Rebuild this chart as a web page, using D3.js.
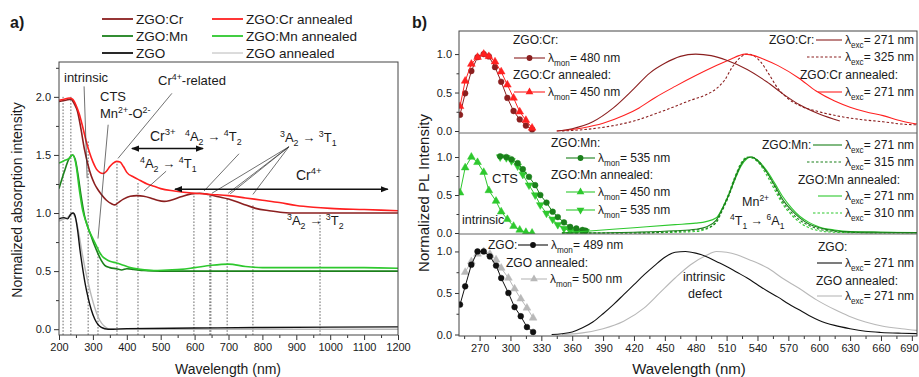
<!DOCTYPE html>
<html><head><meta charset="utf-8">
<script src="https://cdn.jsdelivr.net/npm/d3@7"></script>
<style>body{margin:0;background:#fff} text{font-family:Arial,"Liberation Sans",sans-serif;fill:#1a1a1a}</style>
</head><body><svg id="c" width="919" height="377"></svg>
<script>
// ---------------- Panel a data ----------------
const aXTicks = [200,300,400,500,600,700,800,900,1000,1100,1200];
const aYTicks = [0,0.5,1.0,1.5,2.0];
const aCrNm  = [200,220,235,245,255,265,275,285,295,305,315,325,340,355,365,375,390,410,430,450,470,490,510,530,560,590,615,640,670,700,740,780,820,860,900,1000,1100,1200];
const aCrVal = [1.96,1.97,1.98,1.94,1.87,1.72,1.55,1.42,1.32,1.25,1.20,1.16,1.11,1.08,1.07,1.09,1.12,1.145,1.15,1.145,1.13,1.11,1.10,1.11,1.14,1.165,1.17,1.16,1.14,1.12,1.08,1.04,1.02,1.005,1.0,1.0,1.0,1.0];
const aCrAnnNm  = [200,215,230,240,250,260,270,280,290,300,310,320,330,340,350,360,370,380,390,400,420,440,460,480,500,540,600,650,700,750,800,850,900,950,1000,1100,1200];
const aCrAnnVal = [1.97,1.98,1.99,1.98,1.93,1.85,1.74,1.62,1.52,1.44,1.38,1.35,1.34,1.36,1.40,1.43,1.445,1.44,1.40,1.35,1.31,1.28,1.25,1.23,1.21,1.19,1.17,1.16,1.15,1.13,1.11,1.09,1.065,1.05,1.04,1.03,1.02];
const aMnNm  = [200,215,230,240,248,255,265,275,285,295,305,315,325,335,350,370,385,400,420,450,500,600,800,1000,1200];
const aMnVal = [1.21,1.35,1.47,1.50,1.46,1.35,1.15,0.98,0.88,0.80,0.72,0.65,0.59,0.55,0.53,0.52,0.51,0.52,0.515,0.505,0.50,0.50,0.50,0.50,0.50];
const aMnAnnNm  = [200,215,230,240,250,260,270,280,290,300,310,320,330,340,350,370,390,410,440,480,520,560,600,650,700,750,800,900,1000,1100,1200];
const aMnAnnVal = [1.43,1.45,1.47,1.50,1.42,1.20,1.02,0.92,0.84,0.78,0.72,0.66,0.62,0.60,0.585,0.57,0.55,0.53,0.515,0.505,0.51,0.515,0.53,0.55,0.56,0.54,0.53,0.53,0.53,0.53,0.525];
const aZgoNm  = [200,215,225,235,242,248,255,262,270,278,286,295,305,315,325,335,345,360,400,600,800,1000,1200];
const aZgoVal = [0.95,0.96,0.95,0.99,1.0,0.97,0.85,0.68,0.52,0.38,0.27,0.17,0.09,0.04,0.015,0.004,0.0,0.0,0.005,0.01,0.015,0.018,0.02];
const aZgoAnnNm  = [200,215,225,238,245,252,260,268,277,286,296,306,316,326,336,350,370,500,800,1200];
const aZgoAnnVal = [0.93,0.95,0.96,1.0,0.98,0.92,0.80,0.66,0.52,0.40,0.28,0.18,0.10,0.05,0.02,0.0,0.0,0.0,0.0,0.0];
const aDottedNm  = [212,235,286,315,371,433,598,645,648,696,772,970];
const aDottedTop = [2.0,2.0,1.62,0.72,1.44,1.27,1.17,1.15,1.15,1.13,1.07,1.0];

// ---------------- Panel b data ----------------
const bXTicks = [270,300,330,360,390,420,450,480,510,540,570,600,630,660,690];
const bYTicks = [0,0.5,1.0];
const bExcNm = [251,256,262,268,274,279,285,291,297,303,309,315,321];
const bCrExcVal    = [0.21,0.49,0.78,0.96,1.0,0.97,0.83,0.64,0.43,0.26,0.15,0.07,0.02];
const bCrAnnExcVal = [0.32,0.65,0.87,0.96,1.0,0.97,0.90,0.77,0.60,0.43,0.25,0.14,0.04];
const bCr271Nm  = [345,360,380,400,420,435,450,465,480,495,510,530,549,565,581,600,620];
const bCr271Val = [0.0,0.03,0.12,0.30,0.55,0.75,0.88,0.97,1.0,0.98,0.92,0.80,0.64,0.48,0.34,0.22,0.13];
const bCr325Nm  = [350,380,400,420,440,460,475,490,500,508,515,522,530,536,543,552,560,568,581,600,620,640,662,680,695];
const bCr325Val = [0.0,0.03,0.07,0.13,0.22,0.32,0.40,0.47,0.55,0.66,0.82,0.94,1.0,0.98,0.90,0.72,0.55,0.44,0.33,0.25,0.19,0.15,0.12,0.09,0.08];
const bCrAnn271Nm  = [345,370,390,410,425,440,460,480,500,515,522,528,537,545,560,580,597,615,630,645,662,680,695];
const bCrAnn271Val = [0.0,0.04,0.10,0.20,0.30,0.43,0.58,0.72,0.85,0.94,0.98,1.0,0.98,0.94,0.85,0.69,0.52,0.39,0.31,0.25,0.20,0.13,0.09];

const bMnAnn450Nm  = [251,256,262,268,274,279,286,291,297,303,309,315,321];
const bMnAnn450Val = [0.53,0.86,1.0,0.93,0.80,0.56,0.42,0.28,0.18,0.09,0.04,0.01,0.0];
const bMnExcNm  = [290,296,301,307,312,318,324,329,335,341,346,352,358,364,370,373];
const bMn535Val    = [1.01,1.0,0.97,0.92,0.84,0.74,0.63,0.50,0.40,0.28,0.21,0.14,0.08,0.06,0.04,0.03];
const bMnAnn535Val = [1.0,0.99,0.95,0.88,0.77,0.63,0.50,0.37,0.26,0.18,0.11,0.06,0.03,0.02,0.02,0.02];
const bMnEmNm = [350,380,420,460,480,490,500,506,512,518,524,530,534,540,549,557,565,573,581,590,600,615,630,660,695];
const bMn271Val    = [0.0,0.0,0.01,0.03,0.05,0.08,0.17,0.32,0.50,0.72,0.90,0.99,1.0,0.95,0.80,0.62,0.43,0.30,0.20,0.12,0.07,0.03,0.015,0.01,0.005];
const bMn315Val    = [0.0,0.0,0.0,0.02,0.04,0.06,0.14,0.30,0.48,0.70,0.90,0.99,1.0,0.96,0.80,0.60,0.40,0.27,0.17,0.10,0.05,0.02,0.01,0.0,0.0];
const bMnAnn271Val = [0.0,0.03,0.07,0.11,0.13,0.15,0.20,0.33,0.50,0.70,0.88,0.98,1.0,0.96,0.82,0.65,0.47,0.33,0.22,0.14,0.08,0.04,0.02,0.01,0.005];
const bMnAnn310Val = [0.0,0.0,0.0,0.01,0.02,0.05,0.15,0.33,0.52,0.74,0.92,1.0,0.99,0.94,0.76,0.56,0.37,0.24,0.14,0.07,0.03,0.01,0.005,0.0,0.0];

const bZgoExcNm  = [251,256,262,268,274,280,286,291,298,304,310,316,322];
const bZgoExcVal = [0.36,0.58,0.84,1.0,1.0,0.94,0.83,0.68,0.50,0.33,0.22,0.09,0.03];
const bZgoAnnExcNm  = [256,262,268,274,280,286,291,298,304,310,316,322];
const bZgoAnnExcVal = [0.75,0.88,0.97,1.0,0.97,0.90,0.80,0.68,0.55,0.43,0.32,0.20];
const bZgoEmNm  = [340,350,360,370,380,390,400,410,420,430,440,450,460,470,480,490,500,510,520,530,540,550,560,570,580,590,600,615,630,645,660,680,695];
const bZgoEmVal = [0.0,0.01,0.03,0.08,0.15,0.25,0.36,0.48,0.60,0.72,0.83,0.93,0.99,1.0,0.98,0.94,0.88,0.82,0.75,0.68,0.60,0.52,0.45,0.37,0.30,0.23,0.17,0.11,0.07,0.04,0.025,0.015,0.01];
const bZgoAnnEmNm  = [350,370,390,410,430,445,460,475,490,500,510,520,532,540,550,564,580,597,615,629,645,662,680,695];
const bZgoAnnEmVal = [0.0,0.02,0.07,0.16,0.32,0.50,0.68,0.84,0.95,1.0,0.99,0.96,0.90,0.86,0.80,0.68,0.56,0.42,0.30,0.22,0.15,0.10,0.07,0.05];

// ---------------- styles ----------------
const cCrDark="#8b1f1f", cCrAnn="#ff2020", cMnDark="#1b801b", cMnAnn="#2ec82e", cZgo="#111111", cZgoAnn="#b8b8b8";

const svg = d3.select("#c");
const zip = (a,b)=>a.map((v,i)=>[v,b[i]]);

function rich(parent,x,y,parts,size,anchor){
  const t=parent.append("text").attr("x",x).attr("y",y).attr("font-size",size).attr("text-anchor",anchor||"start");
  let cur=0;
  parts.forEach(p=>{
    const s=p[0], m=p[1]||0;
    const off = m===1 ? -0.42*size : (m===2 ? 0.3*size : 0);
    t.append("tspan").attr("dy",off-cur).attr("font-size", m? size*0.68 : size).text(s);
    cur=off;
  });
  return t;
}
function curve(g,x,y,nm,val,color,w,dash,smooth){
  const line=d3.line().x(d=>x(d[0])).y(d=>y(d[1])).curve(smooth===false?d3.curveLinear:d3.curveMonotoneX);
  g.append("path").attr("d",line(zip(nm,val))).attr("fill","none").attr("stroke",color)
   .attr("stroke-width",w).attr("stroke-dasharray",dash||null).attr("stroke-linejoin","round");
}
function markerPath(shape,s){
  const sym=d3.symbol().type(shape==="c"?d3.symbolCircle:d3.symbolTriangle).size(s);
  return sym();
}
function markers(g,x,y,nm,val,color,shape,s){
  g.selectAll(null).data(zip(nm,val)).enter().append("path")
   .attr("d",markerPath(shape,s))
   .attr("transform",d=>`translate(${x(d[0])},${y(d[1])})${shape==="v"?" rotate(180)":""}`)
   .attr("fill",color).attr("stroke",color).attr("stroke-width",0.5);
}
function styleAxis(sel){
  sel.select(".domain").remove();
  sel.selectAll("line").attr("stroke","#333");
  sel.selectAll("text").attr("font-size",11).attr("fill","#222").style("font-family","Arial, 'Liberation Sans', sans-serif");
}

// ================= PANEL A =================
const xA=d3.scaleLinear().domain([200,1200]).range([59,398]);
const yA=d3.scaleLinear().domain([-0.05,2.3]).range([335,62]);
const gA=svg.append("g");
svg.append("defs").html(`
 <clipPath id="clipA"><rect x="59" y="62" width="339" height="273"/></clipPath>
 <clipPath id="clipB1"><rect x="459" y="31" width="458" height="102"/></clipPath>
 <clipPath id="clipB2"><rect x="459" y="133" width="458" height="101"/></clipPath>
 <clipPath id="clipB3"><rect x="459" y="234" width="458" height="102"/></clipPath>
 <marker id="ah" viewBox="0 0 10 10" refX="9" refY="5" markerWidth="8" markerHeight="8" orient="auto-start-reverse" markerUnits="userSpaceOnUse">
   <path d="M0,1 L10,5 L0,9 z" fill="#111"/></marker>`);

// dotted guide lines
aDottedNm.forEach((nm,i)=>{
  gA.append("line").attr("x1",xA(nm)).attr("x2",xA(nm)).attr("y1",yA(-0.05)).attr("y2",yA(aDottedTop[i]))
    .attr("stroke","#444").attr("stroke-width",0.8).attr("stroke-dasharray","1.6,1.6");
});
const gAc=gA.append("g").attr("clip-path","url(#clipA)");
curve(gAc,xA,yA,aZgoAnnNm,aZgoAnnVal,cZgoAnn,1.4);
curve(gAc,xA,yA,aZgoNm,aZgoVal,cZgo,1.4);
curve(gAc,xA,yA,aMnNm,aMnVal,cMnDark,1.6);
curve(gAc,xA,yA,aMnAnnNm,aMnAnnVal,cMnAnn,1.6);
curve(gAc,xA,yA,aCrNm,aCrVal,cCrDark,1.6);
curve(gAc,xA,yA,aCrAnnNm,aCrAnnVal,cCrAnn,1.6);

// axes a
gA.append("g").attr("transform","translate(0,335)").call(d3.axisBottom(xA).tickValues(aXTicks).tickSize(5).tickPadding(3).tickFormat(d3.format("d"))).call(styleAxis);
gA.append("g").attr("transform","translate(0,335)").call(d3.axisBottom(xA).tickValues(d3.range(250,1200,100)).tickSize(3).tickFormat("")).call(styleAxis);
gA.append("g").attr("transform","translate(59,0)").call(d3.axisLeft(yA).tickValues(aYTicks).tickSize(5).tickPadding(3).tickFormat(d3.format(".1f"))).call(styleAxis);
gA.append("g").attr("transform","translate(59,0)").call(d3.axisLeft(yA).tickValues([0.25,0.75,1.25,1.75,2.25]).tickSize(3).tickFormat("")).call(styleAxis);
gA.append("rect").attr("x",59).attr("y",62).attr("width",339).attr("height",273).attr("fill","none").attr("stroke","#444").attr("stroke-width",1);

gA.append("text").attr("x",228).attr("y",374).attr("text-anchor","middle").attr("font-size",14).text("Wavelength (nm)");
gA.append("text").attr("transform","translate(22,200) rotate(-90)").attr("text-anchor","middle").attr("font-size",14).text("Normalized absorption intensity");
gA.append("text").attr("x",10).attr("y",28).attr("font-size",16).attr("font-weight","bold").text("a)");

// legend a
const legA=[["ZGO:Cr",cCrDark,102,19],["ZGO:Mn",cMnDark,102,36],["ZGO",cZgo,102,53],
            ["ZGO:Cr annealed",cCrAnn,212,19],["ZGO:Mn annealed",cMnAnn,212,36],["ZGO annealed",cZgoAnn,212,53]];
legA.forEach(l=>{
  gA.append("line").attr("x1",l[2]).attr("x2",l[2]+31).attr("y1",l[3]).attr("y2",l[3]).attr("stroke",l[1]).attr("stroke-width",l[1]===cZgoAnn?1:1.8);
  gA.append("text").attr("x",l[2]+34).attr("y",l[3]+5).attr("font-size",13.5).text(l[0]);
});

// annotations a
const ann=(x1,v1,x2,v2)=>gA.append("line").attr("x1",xA(x1)).attr("y1",yA(v1)).attr("x2",xA(x2)).attr("y2",yA(v2)).attr("stroke","#333").attr("stroke-width",0.7);
ann(274,2.09,283,1.30);
ann(345,1.76,315,0.78);
ann(533,2.03,374,1.47);
ann(516,1.36,451,1.19);
ann(731,1.51,628,1.19);
ann(878,1.57,651,1.17); ann(878,1.57,699,1.17); ann(878,1.57,705,1.165); ann(878,1.57,772,1.16);
const dArrow=(n1,n2,v)=>gA.append("line").attr("x1",xA(n1)).attr("x2",xA(n2)).attr("y1",yA(v)).attr("y2",yA(v))
  .attr("stroke","#111").attr("stroke-width",1.5).attr("marker-start","url(#ah)").attr("marker-end","url(#ah)");
dArrow(415,625,1.555);
dArrow(542,1170,1.205);

rich(gA,64,82,[["intrinsic"]],13);
rich(gA,100,101,[["CTS"]],13);
rich(gA,100,118,[["Mn"],["2+",1],["-O"],["2-",1]],13);
rich(gA,158,85,[["Cr"],["4+",1],["-related"]],13);
rich(gA,150,141,[["Cr"],["3+",1]],14);
rich(gA,185,141,[["4",1],["A"],["2",2],[" \u2192 "],["4",1],["T"],["2",2]],13);
rich(gA,140,168,[["4",1],["A"],["2",2],[" \u2192 "],["4",1],["T"],["1",2]],13);
rich(gA,280,142,[["3",1],["A"],["2",2],[" \u2192 "],["3",1],["T"],["1",2]],13);
rich(gA,296,180,[["Cr"],["4+",1]],14);
rich(gA,287,225,[["3",1],["A"],["2",2],[" \u2192 "],["3",1],["T"],["2",2]],13);

// ================= PANEL B =================
const xB=d3.scaleLinear().domain([250,695]).range([459,917]);
const yB1=d3.scaleLinear().domain([-0.026,1.3]).range([133,31]);
const yB2=d3.scaleLinear().domain([-0.013,1.316]).range([234,133]);
const yB3=d3.scaleLinear().domain([-0.018,1.21]).range([336,234]);
const gB=svg.append("g");

// sub 1
const g1=gB.append("g").attr("clip-path","url(#clipB1)");
curve(g1,xB,yB1,bExcNm,bCrExcVal,cCrDark,1,null,false);
markers(g1,xB,yB1,bExcNm,bCrExcVal,cCrDark,"c",26);
curve(g1,xB,yB1,bExcNm,bCrAnnExcVal,cCrAnn,1,null,false);
markers(g1,xB,yB1,bExcNm,bCrAnnExcVal,cCrAnn,"t",26);
curve(g1,xB,yB1,bCr325Nm,bCr325Val,cCrDark,1.1,"2.5,2");
curve(g1,xB,yB1,bCrAnn271Nm,bCrAnn271Val,cCrAnn,1.1);
curve(g1,xB,yB1,bCr271Nm,bCr271Val,cCrDark,1.1);

// sub 2
const g2=gB.append("g").attr("clip-path","url(#clipB2)");
curve(g2,xB,yB2,bMnAnn450Nm,bMnAnn450Val,cMnAnn,1,null,false);
markers(g2,xB,yB2,bMnAnn450Nm,bMnAnn450Val,cMnAnn,"t",26);
curve(g2,xB,yB2,bMnExcNm,bMnAnn535Val,cMnAnn,1,null,false);
markers(g2,xB,yB2,bMnExcNm,bMnAnn535Val,cMnAnn,"v",26);
curve(g2,xB,yB2,bMnExcNm,bMn535Val,cMnDark,1,null,false);
markers(g2,xB,yB2,bMnExcNm,bMn535Val,cMnDark,"c",26);
curve(g2,xB,yB2,bMnEmNm,bMnAnn310Val,cMnAnn,1.1,"2.5,2");
curve(g2,xB,yB2,bMnEmNm,bMnAnn271Val,cMnAnn,1.1);
curve(g2,xB,yB2,bMnEmNm,bMn315Val,cMnDark,1.1,"2.5,2");
curve(g2,xB,yB2,bMnEmNm,bMn271Val,cMnDark,1.1);

// sub 3
const g3=gB.append("g").attr("clip-path","url(#clipB3)");
curve(g3,xB,yB3,bZgoAnnExcNm,bZgoAnnExcVal,cZgoAnn,1,null,false);
markers(g3,xB,yB3,bZgoAnnExcNm,bZgoAnnExcVal,cZgoAnn,"t",26);
curve(g3,xB,yB3,bZgoExcNm,bZgoExcVal,cZgo,1,null,false);
markers(g3,xB,yB3,bZgoExcNm,bZgoExcVal,cZgo,"c",26);
curve(g3,xB,yB3,bZgoAnnEmNm,bZgoAnnEmVal,cZgoAnn,1.1);
curve(g3,xB,yB3,bZgoEmNm,bZgoEmVal,cZgo,1.1);

// axes b
const xAxB=gB.append("g").attr("transform","translate(0,336)").call(d3.axisBottom(xB).tickValues(bXTicks).tickSize(5).tickPadding(3).tickFormat(d3.format("d"))).call(styleAxis);
xAxB.selectAll(".tick text").filter(d=>d===690).attr("dx",-3);
gB.append("g").attr("transform","translate(0,336)").call(d3.axisBottom(xB).tickValues(d3.range(255,695,30)).tickSize(3).tickFormat("")).call(styleAxis);
[yB1,yB2,yB3].forEach(ys=>{
  gB.append("g").attr("transform","translate(459,0)").call(d3.axisLeft(ys).tickValues(bYTicks).tickSize(4).tickPadding(3).tickFormat(d3.format(".1f"))).call(styleAxis);
  gB.append("g").attr("transform","translate(459,0)").call(d3.axisLeft(ys).tickValues([0.25,0.75]).tickSize(2.5).tickFormat("")).call(styleAxis);
});
gB.append("rect").attr("x",459).attr("y",31).attr("width",458).attr("height",305).attr("fill","none").attr("stroke","#444").attr("stroke-width",1);
gB.append("line").attr("x1",459).attr("x2",917).attr("y1",133).attr("y2",133).attr("stroke","#666").attr("stroke-width",1);
gB.append("line").attr("x1",459).attr("x2",917).attr("y1",234).attr("y2",234).attr("stroke","#666").attr("stroke-width",1);

gB.append("text").attr("x",689).attr("y",374).attr("text-anchor","middle").attr("font-size",15).text("Wavelength (nm)");
gB.append("text").attr("transform","translate(429,193) rotate(-90)").attr("text-anchor","middle").attr("font-size",15).text("Normalized PL Intensity");
gB.append("text").attr("x",412).attr("y",28).attr("font-size",16).attr("font-weight","bold").text("b)");

// legend helpers b
function legSample(x1,x2,y,color,shape,dash){
  gB.append("line").attr("x1",x1).attr("x2",x2).attr("y1",y).attr("y2",y).attr("stroke",color).attr("stroke-width",1.1).attr("stroke-dasharray",dash||null);
  if(shape){
    gB.append("path").attr("d",markerPath(shape,26)).attr("transform",`translate(${(x1+x2)/2},${y})${shape==="v"?" rotate(180)":""}`).attr("fill",color);
  }
}
const lam=(sub,rest)=>[["\u03bb"],[sub,2],[rest]];
// P1
rich(gB,513,44,[["ZGO:Cr:"]],12);
legSample(514,545,58,cCrDark,"c"); rich(gB,548,62,lam("mon","= 480 nm"),12);
rich(gB,513,79,[["ZGO:Cr annealed:"]],12);
legSample(514,545,92,cCrAnn,"t"); rich(gB,548,96,lam("mon","= 450 nm"),12);
rich(gB,769,44,[["ZGO:Cr:"]],12);
legSample(816,842,40,cCrDark); rich(gB,845,44,lam("exc","= 271 nm"),12);
legSample(807,842,57,cCrDark,null,"2.5,2"); rich(gB,845,61,lam("exc","= 325 nm"),12);
rich(gB,800,79,[["ZGO:Cr annealed:"]],12);
legSample(818,842,92,cCrAnn); rich(gB,845,96,lam("exc","= 271 nm"),12);
// P2
rich(gB,551,147,[["ZGO:Mn:"]],12);
legSample(566,595,158,cMnDark,"c"); rich(gB,598,162,lam("mon","= 535 nm"),12);
rich(gB,551,179,[["ZGO:Mn annealed:"]],12);
legSample(566,595,192,cMnAnn,"t"); rich(gB,598,196,lam("mon","= 450 nm"),12);
legSample(566,595,210,cMnAnn,"v"); rich(gB,598,214,lam("mon","= 535 nm"),12);
rich(gB,762,149,[["ZGO:Mn:"]],12);
legSample(813,842,145,cMnDark); rich(gB,845,149,lam("exc","= 271 nm"),12);
legSample(807,842,162,cMnDark,null,"2.5,2"); rich(gB,845,166,lam("exc","= 315 nm"),12);
rich(gB,798,184,[["ZGO:Mn annealed:"]],12);
legSample(818,842,196,cMnAnn); rich(gB,845,200,lam("exc","= 271 nm"),12);
legSample(813,842,213,cMnAnn,null,"2.5,2"); rich(gB,845,217,lam("exc","= 310 nm"),12);
rich(gB,492,183,[["CTS"]],13);
rich(gB,462,224,[["intrinsic"]],12.5);
rich(gB,742,206,[["Mn"],["2+",1]],12.5);
rich(gB,730,225,[["4",1],["T"],["1",2],[" \u2192 "],["6",1],["A"],["1",2]],12.5);
// P3
rich(gB,488,249,[["ZGO:"]],12);
legSample(518,548,245,cZgo,"c"); rich(gB,551,249,lam("mon","= 489 nm"),12);
rich(gB,506,267,[["ZGO annealed:"]],12);
legSample(521,547,279,cZgoAnn,"t"); rich(gB,550,283,lam("mon","= 500 nm"),12);
rich(gB,818,251,[["ZGO:"]],12);
legSample(817,842,263,cZgo); rich(gB,845,267,lam("exc","= 271 nm"),12);
rich(gB,816,285,[["ZGO annealed:"]],12);
legSample(817,842,296,cZgoAnn); rich(gB,845,300,lam("exc","= 271 nm"),12);
rich(gB,683,281,[["intrinsic"]],12.5);
rich(gB,688,298,[["defect"]],12.5);
</script></body></html>
